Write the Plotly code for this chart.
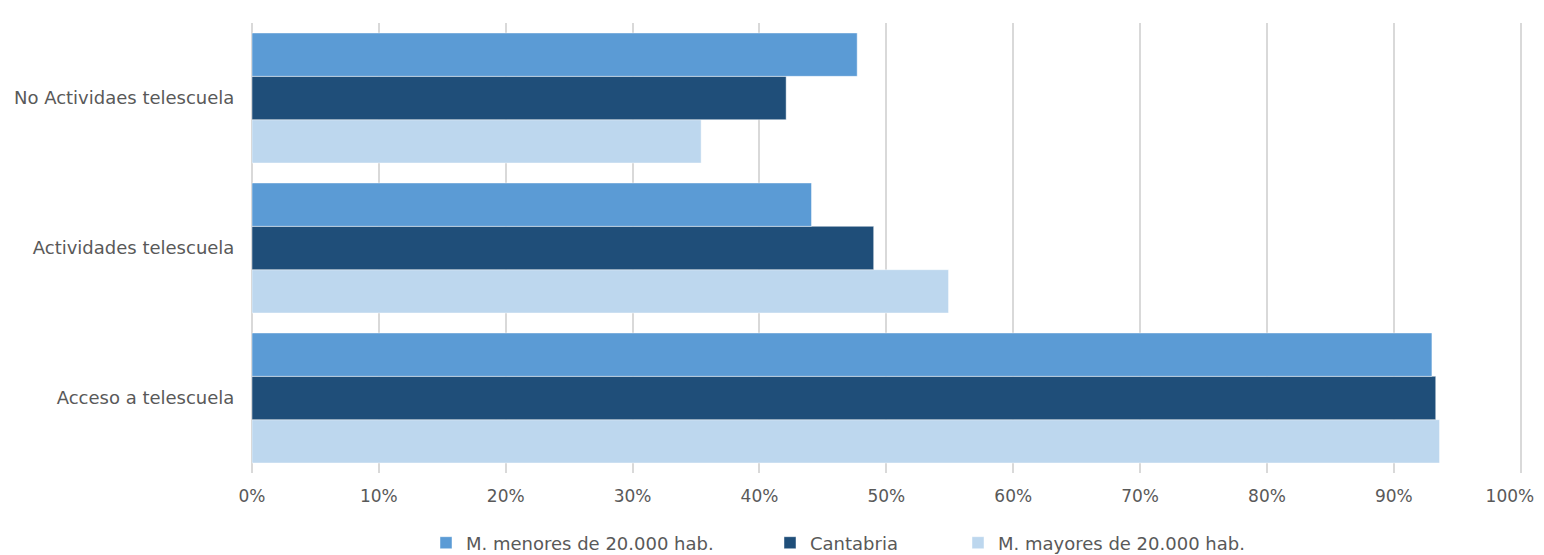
import plotly.graph_objects as go

categories = ["Acceso a telescuela", "Actividades telescuela", "No Actividaes telescuela"]
menores = [0.930, 0.441, 0.477]
cantabria = [0.933, 0.490, 0.421]
mayores = [0.936, 0.549, 0.354]
tick_vals = [i / 10 for i in range(11)]
tick_text = [f"{i*10}%" for i in range(11)]

series = [
    ("M. mayores de 20.000 hab.", mayores, "#BDD7EE", "legend3"),
    ("Cantabria", cantabria, "#1F4E79", "legend2"),
    ("M. menores de 20.000 hab.", menores, "#5B9BD5", "legend"),
]

FONT = "DejaVu Sans"
GRAY = "#595959"
FS = 18

# keep the last tick label inside the visible window (pad it on the right)
tick_text_shown = tick_text[:-1] + [tick_text[-1] + "\u00a0" * 4]

fig = go.Figure()
for name, vals, color, leg in series:
    fig.add_trace(go.Bar(
        y=categories, x=vals, name=name, orientation="h",
        marker=dict(color=color, line=dict(color="rgba(255,255,255,0.6)", width=0.75)),
        legend=leg, showlegend=True, hoverinfo="x+name",
    ))

# page has an 8px body margin; figure is offset by it
W, H = 1544, 547
L, R, T, B = 244, 30, 15, 82
pw = W - L - R
ph = H - T - B

def px_x(x):
    return (x - L) / pw

leg_y = (H - B - 535) / ph
common = dict(orientation="h", yanchor="middle", xanchor="left", y=leg_y,
              font=dict(family=FONT, size=FS, color=GRAY), bgcolor="rgba(0,0,0,0)",
              borderwidth=0, itemwidth=30)

fig.update_layout(
    width=W, height=H,
    margin=dict(l=L, r=R, t=T, b=B, autoexpand=False),
    paper_bgcolor="white", plot_bgcolor="white",
    barmode="group", bargap=0.133, bargroupgap=0,
    showlegend=True,
    font=dict(family=FONT, size=FS, color=GRAY),
    legend=dict(x=px_x(418), **common),
    legend2=dict(x=px_x(762), **common),
    legend3=dict(x=px_x(950), **common),
    xaxis=dict(range=[0, 1.001], tickvals=tick_vals, ticktext=tick_text_shown, automargin=False,
               showgrid=True, gridcolor="#D9D9D9", gridwidth=2,
               zeroline=True, zerolinecolor="#D9D9D9", zerolinewidth=2,
               showline=False, ticks="outside", ticklen=8, tickcolor="rgba(0,0,0,0)",
               ticklabeloverflow="allow",
               tickfont=dict(family=FONT, size=17, color=GRAY), fixedrange=True),
    yaxis=dict(categoryorder="array", categoryarray=categories, automargin=False,
               showgrid=False, zeroline=False, showline=False,
               ticks="outside", ticklen=13, tickcolor="rgba(0,0,0,0)",
               tickfont=dict(family=FONT, size=FS, color=GRAY), fixedrange=True),
)

fig.write_html("out.html")
